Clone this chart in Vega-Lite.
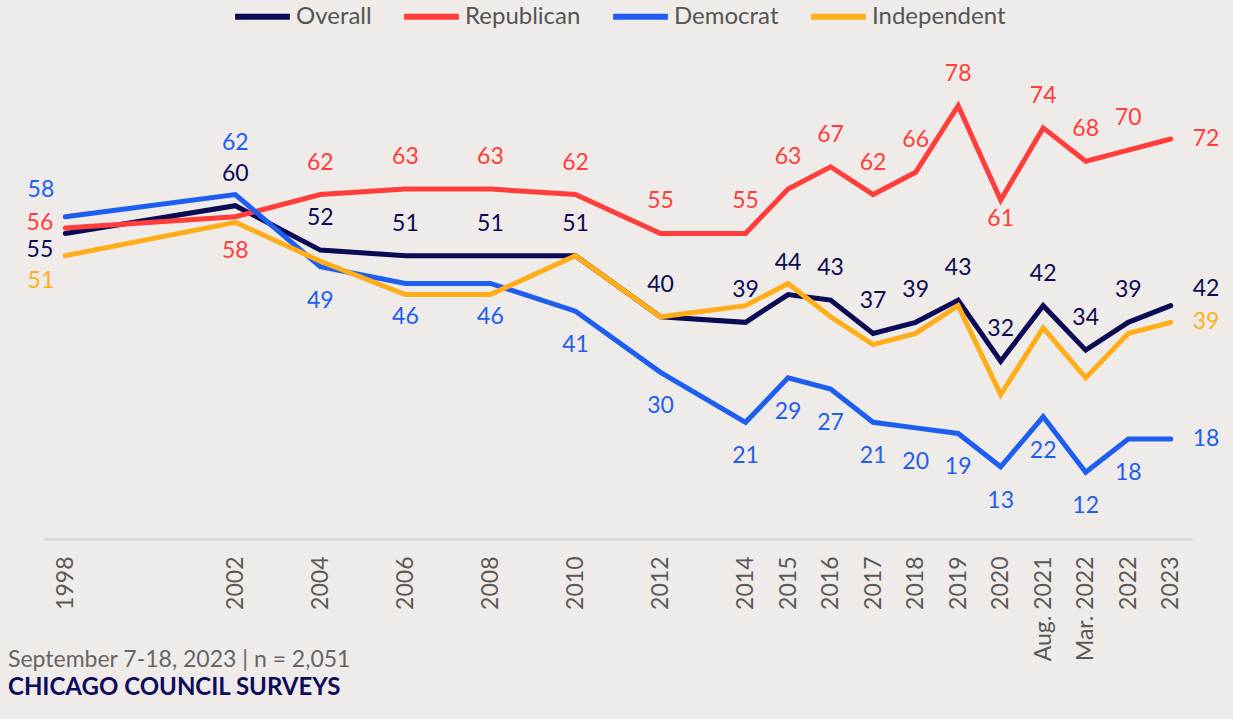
{
  "$schema": "https://vega.github.io/schema/vega-lite/v6.json",
  "width": 1148,
  "height": 500,
  "autosize": {"type": "none"},
  "padding": {"left": 44, "top": 39, "right": 41, "bottom": 180},
  "background": "#efebe8",
  "config": {
    "view": {"stroke": null},
    "font": "Lato",
    "text": {"font": "Lato"}
  },
  "title": {
    "text": "September 7-18, 2023 | n = 2,051",
    "subtitle": "CHICAGO COUNCIL SURVEYS",
    "orient": "bottom",
    "anchor": "start",
    "frame": "group",
    "dx": -36,
    "offset": -12,
    "font": "Lato",
    "fontSize": 23,
    "fontWeight": "normal",
    "color": "#666666",
    "subtitleFont": "Lato",
    "subtitleFontSize": 24,
    "subtitleFontWeight": "bold",
    "subtitleColor": "#0d0b5c",
    "subtitlePadding": 4
  },
  "data": {
    "values": [
      {"series": "Overall", "period": "1998", "pos": 0, "value": 55},
      {"series": "Overall", "period": "2002", "pos": 4, "value": 60},
      {"series": "Overall", "period": "2004", "pos": 6, "value": 52},
      {"series": "Overall", "period": "2006", "pos": 8, "value": 51},
      {"series": "Overall", "period": "2008", "pos": 10, "value": 51},
      {"series": "Overall", "period": "2010", "pos": 12, "value": 51},
      {"series": "Overall", "period": "2012", "pos": 14, "value": 40},
      {"series": "Overall", "period": "2014", "pos": 16, "value": 39},
      {"series": "Overall", "period": "2015", "pos": 17, "value": 44},
      {"series": "Overall", "period": "2016", "pos": 18, "value": 43},
      {"series": "Overall", "period": "2017", "pos": 19, "value": 37},
      {"series": "Overall", "period": "2018", "pos": 20, "value": 39},
      {"series": "Overall", "period": "2019", "pos": 21, "value": 43},
      {"series": "Overall", "period": "2020", "pos": 22, "value": 32},
      {"series": "Overall", "period": "Aug. 2021", "pos": 23, "value": 42},
      {"series": "Overall", "period": "Mar. 2022", "pos": 24, "value": 34},
      {"series": "Overall", "period": "2022", "pos": 25, "value": 39},
      {"series": "Overall", "period": "2023", "pos": 26, "value": 42},
      {"series": "Republican", "period": "1998", "pos": 0, "value": 56},
      {"series": "Republican", "period": "2002", "pos": 4, "value": 58},
      {"series": "Republican", "period": "2004", "pos": 6, "value": 62},
      {"series": "Republican", "period": "2006", "pos": 8, "value": 63},
      {"series": "Republican", "period": "2008", "pos": 10, "value": 63},
      {"series": "Republican", "period": "2010", "pos": 12, "value": 62},
      {"series": "Republican", "period": "2012", "pos": 14, "value": 55},
      {"series": "Republican", "period": "2014", "pos": 16, "value": 55},
      {"series": "Republican", "period": "2015", "pos": 17, "value": 63},
      {"series": "Republican", "period": "2016", "pos": 18, "value": 67},
      {"series": "Republican", "period": "2017", "pos": 19, "value": 62},
      {"series": "Republican", "period": "2018", "pos": 20, "value": 66},
      {"series": "Republican", "period": "2019", "pos": 21, "value": 78},
      {"series": "Republican", "period": "2020", "pos": 22, "value": 61},
      {"series": "Republican", "period": "Aug. 2021", "pos": 23, "value": 74},
      {"series": "Republican", "period": "Mar. 2022", "pos": 24, "value": 68},
      {"series": "Republican", "period": "2022", "pos": 25, "value": 70},
      {"series": "Republican", "period": "2023", "pos": 26, "value": 72},
      {"series": "Democrat", "period": "1998", "pos": 0, "value": 58},
      {"series": "Democrat", "period": "2002", "pos": 4, "value": 62},
      {"series": "Democrat", "period": "2004", "pos": 6, "value": 49},
      {"series": "Democrat", "period": "2006", "pos": 8, "value": 46},
      {"series": "Democrat", "period": "2008", "pos": 10, "value": 46},
      {"series": "Democrat", "period": "2010", "pos": 12, "value": 41},
      {"series": "Democrat", "period": "2012", "pos": 14, "value": 30},
      {"series": "Democrat", "period": "2014", "pos": 16, "value": 21},
      {"series": "Democrat", "period": "2015", "pos": 17, "value": 29},
      {"series": "Democrat", "period": "2016", "pos": 18, "value": 27},
      {"series": "Democrat", "period": "2017", "pos": 19, "value": 21},
      {"series": "Democrat", "period": "2018", "pos": 20, "value": 20},
      {"series": "Democrat", "period": "2019", "pos": 21, "value": 19},
      {"series": "Democrat", "period": "2020", "pos": 22, "value": 13},
      {"series": "Democrat", "period": "Aug. 2021", "pos": 23, "value": 22},
      {"series": "Democrat", "period": "Mar. 2022", "pos": 24, "value": 12},
      {"series": "Democrat", "period": "2022", "pos": 25, "value": 18},
      {"series": "Democrat", "period": "2023", "pos": 26, "value": 18},
      {"series": "Independent", "period": "1998", "pos": 0, "value": 51},
      {"series": "Independent", "period": "2002", "pos": 4, "value": 57},
      {"series": "Independent", "period": "2004", "pos": 6, "value": 50},
      {"series": "Independent", "period": "2006", "pos": 8, "value": 44},
      {"series": "Independent", "period": "2008", "pos": 10, "value": 44},
      {"series": "Independent", "period": "2010", "pos": 12, "value": 51},
      {"series": "Independent", "period": "2012", "pos": 14, "value": 40},
      {"series": "Independent", "period": "2014", "pos": 16, "value": 42},
      {"series": "Independent", "period": "2015", "pos": 17, "value": 46},
      {"series": "Independent", "period": "2016", "pos": 18, "value": 40},
      {"series": "Independent", "period": "2017", "pos": 19, "value": 35},
      {"series": "Independent", "period": "2018", "pos": 20, "value": 37},
      {"series": "Independent", "period": "2019", "pos": 21, "value": 42},
      {"series": "Independent", "period": "2020", "pos": 22, "value": 26},
      {"series": "Independent", "period": "Aug. 2021", "pos": 23, "value": 38},
      {"series": "Independent", "period": "Mar. 2022", "pos": 24, "value": 29},
      {"series": "Independent", "period": "2022", "pos": 25, "value": 37},
      {"series": "Independent", "period": "2023", "pos": 26, "value": 39}
    ]
  },
  "encoding": {
    "x": {
      "field": "pos",
      "type": "quantitative",
      "scale": {"domain": [-0.5, 26.5], "nice": false, "zero": false},
      "axis": {
        "title": null,
        "values": [0, 4, 6, 8, 10, 12, 14, 16, 17, 18, 19, 20, 21, 22, 23, 24, 25, 26],
        "labelExpr": "['1998','','','','2002','','2004','','2006','','2008','','2010','','2012','','2014','2015','2016','2017','2018','2019','2020','Aug. 2021','Mar. 2022','2022','2023'][datum.value]",
        "labelAngle": 270,
        "labelAlign": "right",
        "labelBaseline": "middle",
        "labelPadding": 17,
        "labelFont": "Lato",
        "labelFontSize": 23,
        "labelColor": "#5a5a5a",
        "labelOverlap": false,
        "labelFlush": false,
        "ticks": false,
        "grid": false,
        "domain": true,
        "domainColor": "#d6d3d1",
        "domainWidth": 2
      }
    },
    "y": {
      "field": "value",
      "type": "quantitative",
      "scale": {"domain": [0, 90], "nice": false},
      "axis": null
    },
    "color": {
      "field": "series",
      "type": "nominal",
      "scale": {
        "domain": ["Overall", "Republican", "Democrat", "Independent"],
        "range": ["#0b0a55", "#ff3d3b", "#1d5ef0", "#ffae1a"]
      },
      "legend": null
    }
  },
  "layer": [
    {
      "mark": {"type": "line", "strokeWidth": 5, "strokeCap": "round", "strokeJoin": "miter"},
      "encoding": {
        "color": {
          "field": "series",
          "type": "nominal",
          "scale": {
            "domain": ["Overall", "Republican", "Democrat", "Independent"],
            "range": ["#0b0a55", "#ff3d3b", "#1d5ef0", "#ffae1a"]
          },
          "legend": {
            "title": null,
            "orient": "none",
            "legendX": 188,
            "legendY": -53,
            "direction": "horizontal",
            "columns": 4,
            "symbolType": "stroke",
            "symbolSize": 3000,
            "symbolStrokeWidth": 6,
            "labelFont": "Lato",
            "labelFontSize": 24,
            "labelColor": "#555555",
            "labelOffset": 3,
            "columnPadding": 20
          }
        }
      }
    },
    {
      "transform": [{"filter": "(datum.series=='Overall' && datum.pos>0 && datum.pos<26) || (datum.series=='Republican' && datum.pos>0 && datum.pos<26 && datum.pos!=4 && datum.pos!=22)"}],
      "mark": {"type": "text", "dy": -32, "fontSize": 23, "baseline": "middle", "align": "center"},
      "encoding": {"text": {"field": "value", "type": "quantitative"}}
    },
    {
      "transform": [{"filter": "datum.series=='Democrat' && datum.pos==4"}],
      "mark": {"type": "text", "dy": -52, "fontSize": 23, "baseline": "middle", "align": "center"},
      "encoding": {"text": {"field": "value", "type": "quantitative"}}
    },
    {
      "transform": [{"filter": "(datum.series=='Democrat' && datum.pos>4 && datum.pos<26) || (datum.series=='Republican' && datum.pos==4)"}],
      "mark": {"type": "text", "dy": 34, "fontSize": 23, "baseline": "middle", "align": "center"},
      "encoding": {"text": {"field": "value", "type": "quantitative"}}
    },
    {
      "transform": [{"filter": "datum.series=='Republican' && datum.pos==22"}],
      "mark": {"type": "text", "dy": 19, "fontSize": 23, "baseline": "middle", "align": "center"},
      "encoding": {"text": {"field": "value", "type": "quantitative"}}
    },
    {
      "transform": [{"filter": "datum.pos==26 && datum.series!='Overall'"}],
      "mark": {"type": "text", "dx": 22, "fontSize": 23, "baseline": "middle", "align": "left"},
      "encoding": {"text": {"field": "value", "type": "quantitative"}}
    },
    {
      "transform": [{"filter": "datum.pos==26 && datum.series=='Overall'"}],
      "mark": {"type": "text", "dx": 22, "dy": -17, "fontSize": 23, "baseline": "middle", "align": "left"},
      "encoding": {"text": {"field": "value", "type": "quantitative"}}
    },
    {
      "transform": [{"filter": "datum.pos==0 && datum.series=='Democrat'"}],
      "mark": {"type": "text", "dx": -11, "dy": -27, "fontSize": 23, "baseline": "middle", "align": "right"},
      "encoding": {"text": {"field": "value", "type": "quantitative"}}
    },
    {
      "transform": [{"filter": "datum.pos==0 && datum.series=='Republican'"}],
      "mark": {"type": "text", "dx": -12, "dy": -5, "fontSize": 23, "baseline": "middle", "align": "right"},
      "encoding": {"text": {"field": "value", "type": "quantitative"}}
    },
    {
      "transform": [{"filter": "datum.pos==0 && datum.series=='Overall'"}],
      "mark": {"type": "text", "dx": -12, "dy": 17, "fontSize": 23, "baseline": "middle", "align": "right"},
      "encoding": {"text": {"field": "value", "type": "quantitative"}}
    },
    {
      "transform": [{"filter": "datum.pos==0 && datum.series=='Independent'"}],
      "mark": {"type": "text", "dx": -11, "dy": 25, "fontSize": 23, "baseline": "middle", "align": "right"},
      "encoding": {"text": {"field": "value", "type": "quantitative"}}
    }
  ]
}
